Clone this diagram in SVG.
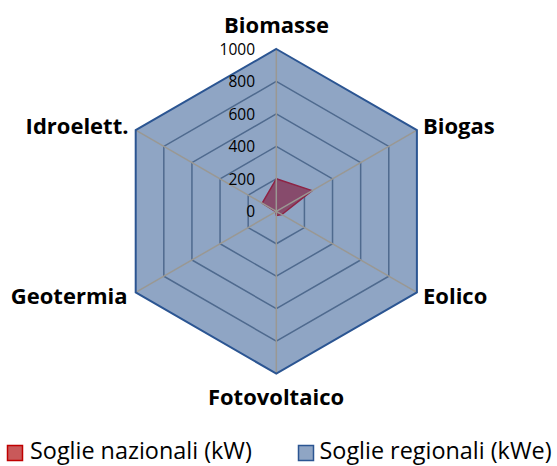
<svg xmlns="http://www.w3.org/2000/svg" width="557" height="466" viewBox="0 0 557 466">
  <style>
    .cat { font-family: "Open Sans", "Liberation Sans", sans-serif; font-weight: bold; font-size: 22px; fill: #000; }
    .tick { font-family: "Open Sans", "Liberation Sans", sans-serif; font-size: 15.5px; fill: #000; text-anchor: end; }
    .leg { font-family: "Open Sans", "Liberation Sans", sans-serif; font-size: 23.4px; fill: #000; }
    .ring { fill: none; stroke: #4F6A8E; stroke-width: 1.5; }
    .spoke { stroke: #9A9893; stroke-width: 1.5; }
  </style>
  <rect width="557" height="466" fill="#ffffff"/>
  <g id="series-regionali">
    <polygon points="276.3,49 416.9,130.15 416.9,292.45 276.3,373.6 135.7,292.45 135.7,130.15" fill="#8FA5C4" stroke="none"/>
  </g>
  <g id="grid">
    <polygon class="ring" points="276.3,81.46 388.78,146.38 388.78,276.22 276.3,341.14 163.82,276.22 163.82,146.38"/>
    <polygon class="ring" points="276.3,113.92 360.66,162.61 360.66,259.99 276.3,308.68 191.94,259.99 191.94,162.61"/>
    <polygon class="ring" points="276.3,146.38 332.54,178.84 332.54,243.76 276.3,276.22 220.06,243.76 220.06,178.84"/>
    <polygon class="ring" points="276.3,178.84 304.42,195.07 304.42,227.53 276.3,243.76 248.18,227.53 248.18,195.07"/>
  </g>
  <g id="series-nazionali">
    <polygon points="276.3,178.8 312.1,190.6 281.9,214.5 276.3,215.4 275.6,211.7 262.2,203.2" fill="#874B6C" stroke="#8E2344" stroke-width="1.5" stroke-linejoin="round"/>
  </g>
  <g id="connectors">
    <line class="spoke" x1="276.3" y1="211.3" x2="276.3" y2="49"/>
    <line class="spoke" x1="276.3" y1="211.3" x2="416.9" y2="130.15"/>
    <line class="spoke" x1="276.3" y1="211.3" x2="416.9" y2="292.45"/>
    <line class="spoke" x1="276.3" y1="211.3" x2="276.3" y2="373.6"/>
    <line class="spoke" x1="276.3" y1="211.3" x2="135.7" y2="292.45"/>
    <line class="spoke" x1="276.3" y1="211.3" x2="135.7" y2="130.15"/>
  </g>
  <g id="outline">
    <polygon points="276.3,49 416.9,130.15 416.9,292.45 276.3,373.6 135.7,292.45 135.7,130.15" fill="none" stroke="#2B5592" stroke-width="2"/>
  </g>
  <g id="ticks">
    <text class="tick" x="255" y="55">1000</text>
    <text class="tick" x="255" y="87">800</text>
    <text class="tick" x="255" y="119.5">600</text>
    <text class="tick" x="255" y="152">400</text>
    <text class="tick" x="255" y="184.5">200</text>
    <text class="tick" x="255" y="217">0</text>
  </g>
  <g id="node-biomasse"><text class="cat" x="276.5" y="33" text-anchor="middle">Biomasse</text></g>
  <g id="node-biogas"><text class="cat" x="423" y="133.5">Biogas</text></g>
  <g id="node-eolico"><text class="cat" x="423" y="303.5">Eolico</text></g>
  <g id="node-fotovoltaico"><text class="cat" x="276" y="405" text-anchor="middle">Fotovoltaico</text></g>
  <g id="node-geotermia"><text class="cat" x="127.5" y="303.5" text-anchor="end">Geotermia</text></g>
  <g id="node-idroelett"><text class="cat" x="128.5" y="133.5" text-anchor="end">Idroelett.</text></g>
  <g id="legend">
    <rect x="7.5" y="445.5" width="15" height="15" fill="#C9595A" stroke="#C00000" stroke-width="1.5"/>
    <text class="leg" x="30" y="459">Soglie nazionali (kW)</text>
    <rect x="298.5" y="445.5" width="15" height="15" fill="#8FA5C4" stroke="#2B5592" stroke-width="1.5"/>
    <text class="leg" x="319.5" y="459">Soglie regionali (kWe)</text>
  </g>
</svg>
